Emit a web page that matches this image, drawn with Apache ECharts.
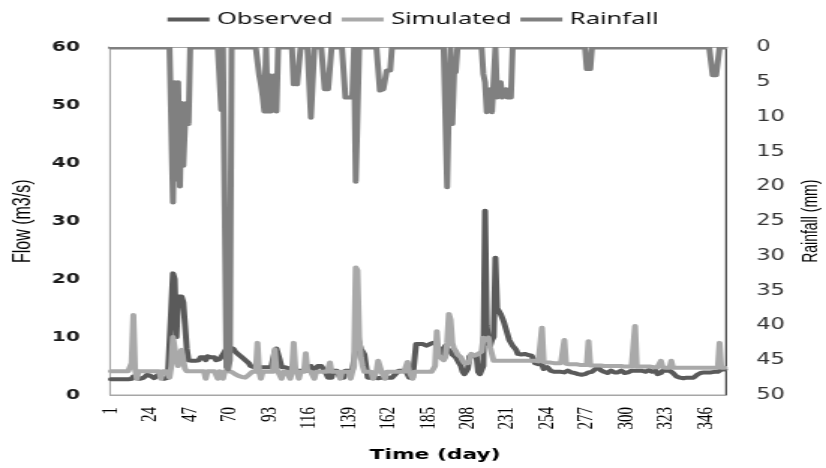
<!DOCTYPE html>
<html>
<head>
<meta charset="utf-8">
<script src="https://cdn.jsdelivr.net/npm/echarts@6/dist/echarts.min.js"></script>
<style>
html,body{margin:0;padding:0;background:#fff;overflow:hidden;width:826px;height:468px}
#main{width:551px;height:468px;transform:scaleX(1.49909);transform-origin:0 0}
</style>
</head>
<body>
<div id="main"></div>
<script>
// Daily values, day 1 .. 357
var observed = [
2.7,2.7,2.7,2.7,2.7,2.7,2.7,2.7,2.7,2.7,2.7,2.7,2.8,3.2,3.0,2.9,2.9,2.8,2.8,3.0,
3.2,3.5,3.6,3.3,3.0,2.9,2.9,3.4,3.6,3.1,2.8,2.8,2.9,3.0,3.2,15,21,20,10,17,
17,17,16,12,8,6,5.9,5.9,5.9,5.9,5.9,6.0,6.5,6.7,6.5,6.0,6.7,6.7,6.5,6.7,
6.5,6.0,6.0,6.2,6.5,7.0,7.5,8.0,8.2,8.2,8.2,8.0,7.5,7.5,7.0,7.0,6.5,6.5,6.0,5.9,
5.5,5.0,4.8,4.8,4.9,4.8,4.8,4.8,4.7,4.8,4.8,4.8,4.9,4.8,4.8,7.5,8.0,7.9,6.0,4.8,
4.8,4.8,4.7,4.6,4.5,4.4,4.3,4.2,4.2,4.2,4.2,4.2,4.2,4.2,4.2,4.2,5.0,5.0,4.2,4.2,
5.0,5.0,5.0,4.8,4.2,4.2,3.0,3.0,3.0,4.2,4.2,4.2,4.2,3.0,3.0,3.0,4.2,4.2,4.2,4.2,
4.2,4.5,8.0,10.0,9.0,8.0,7.5,7.0,5.0,3.0,3.0,3.0,3.0,3.0,2.9,2.9,3.0,3.0,3.0,3.0,
3.0,3.0,3.0,3.0,3.2,3.6,3.8,4.2,4.2,4.2,4.2,4.2,4.0,3.0,3.0,3.0,3.0,8.8,8.8,8.8,
8.8,8.8,8.8,8.5,8.8,8.8,8.8,9.0,9.0,8.8,8.5,7.5,7.0,8.0,8.5,8.0,7.8,7.5,7.0,6.8,
6.5,6.0,5.5,5.0,4.0,3.6,3.6,4.5,6.7,6.7,6.7,6.5,6.7,4.0,3.6,3.8,5.0,31.8,12,9.0,
8.5,9.5,10,23.7,15,14.5,14,13.3,12.5,11.5,10.5,9.5,9.0,8.5,8.2,7.8,7.1,7.1,7.0,7.1,
7.1,7.0,6.9,6.8,6.8,6.5,5.5,5.3,5.3,5.0,5.3,4.5,4.5,4.8,4.5,4.2,4.2,4.0,4.2,4.0,
3.9,4.0,3.8,3.9,4.0,4.2,4.0,3.9,4.0,3.8,3.7,3.6,3.6,3.5,3.6,3.6,3.7,3.9,4.0,4.0,
4.2,4.5,4.7,4.7,4.3,4.0,4.0,3.9,3.8,4.0,4.2,4.0,3.9,3.8,3.9,4.0,4.2,4.0,3.8,3.8,
3.9,4.2,4.2,4.0,4.2,4.3,4.2,4.0,4.2,4.2,4.0,4.2,4.3,4.2,4.0,4.2,4.2,3.6,3.6,3.8,
4.2,4.4,4.2,4.0,4.2,4.0,3.8,3.5,3.2,3.0,3.0,3.0,2.9,2.9,3.0,3.0,3.0,3.0,3.0,3.2,
3.5,3.6,3.8,3.9,3.9,4.0,3.9,3.8,3.9,4.0,4.0,3.9,4.0,4.2,4.4,4.3,4.4
];
var simulated = [
4.1,4.1,4.1,4.1,4.1,4.1,4.1,4.1,4.1,4.1,4.1,4.3,5.5,13.8,4.5,2.8,4.1,4.1,4.1,4.1,
4.1,4.1,4.1,4.1,4.1,4.1,4.1,4.1,4.1,2.8,4.1,4.1,4.1,4.1,3.0,5,10,9.9,6,5,
7,7.8,6,4.5,4.1,4.1,4.1,4.1,4.1,4.1,4.1,4.1,4.1,4.1,4.1,2.8,4.1,4.1,4.1,4.1,
4.1,4.1,2.8,4.1,4.1,2.8,4.1,4.1,4.1,4.1,4.0,3.8,3.6,3.4,3.3,3.2,3.1,3.0,3.0,3.2,
3.5,3.8,4.0,4.0,4.0,9.0,4.0,2.8,4.0,4.0,4.0,4.0,4.0,4.0,4.0,7.9,4.5,4.0,4.0,2.8,
4.0,4.0,4.0,4.0,2.8,4.0,9.0,4.5,4.0,2.8,4.0,4.0,4.0,7.2,4.2,4.0,4.0,4.0,2.8,4.0,
4.0,4.0,4.0,4.0,4.0,4.0,4.5,5.6,4.0,4.0,4.0,4.0,4.0,2.8,4.0,4.0,4.0,4.0,4.0,2.8,
4.0,5.0,22,21.5,10,6.5,5,4.0,4.0,4.0,4.0,4.0,2.8,2.8,4.0,5.9,5.9,4.0,4.0,2.8,
4.0,4.0,4.0,4.0,4.0,4.0,4.0,4.0,4.0,4.0,4.0,4.0,5.7,4.0,4.0,2.8,4.0,4.0,4.0,4.0,
4.0,4.0,4.0,4.0,4.0,4.0,4.0,4.0,5.0,11.0,7.0,6.5,6.5,6.0,6.5,9.0,14.0,13.0,9.0,8.0,
7.6,7.0,6.8,6.5,5.9,5.5,5.5,5.5,6.0,7.1,7.1,6.8,7.1,7.1,7.0,7.5,9.9,9.9,9.5,9.9,
8.2,8.0,5.9,5.9,5.9,5.9,5.9,5.9,5.9,5.9,5.9,5.9,5.9,5.9,5.9,5.9,5.9,5.9,5.9,5.9,
5.9,5.9,5.9,5.9,5.9,5.9,5.9,5.8,5.8,5.7,11.6,5.7,5.7,5.6,5.6,5.6,5.6,5.5,5.5,5.5,
5.5,5.5,5.4,9.5,5.4,5.4,5.3,5.3,5.3,5.3,5.3,5.2,5.2,5.2,5.2,5.2,5.2,9.3,5.1,5.1,
5.1,5.1,5.1,5.1,5.1,5.1,5.0,5.0,5.0,5.0,5.0,5.0,5.0,5.0,5.0,5.0,5.0,5.0,4.9,4.9,
4.9,4.9,4.9,4.9,11.9,4.9,4.9,4.9,4.9,4.9,4.9,4.9,4.9,4.9,4.9,4.8,4.8,4.8,4.8,5.9,
4.8,4.8,4.7,4.7,4.7,5.9,4.7,4.7,4.7,4.7,4.7,4.7,4.7,4.7,4.7,4.7,4.7,4.7,4.7,4.7,
4.7,4.7,4.7,4.7,4.7,4.7,4.7,4.7,4.7,4.7,4.7,4.7,4.7,9.0,4.7,4.7,4.7
];
var rainfall = [
0,0,0,0,0,0,0,0,0,0,0,0,0,0,0,0,0,0,0,0,
0,0,0,0,0,0,0,0,0,0,0,0,0,0,0,0,22.3,5,19,5,
20,8,17,11,8,11,0,0,0,0,0,0,0,0,0,0,0,0,0,0,
0,0,0,0,9,0,0,46,46.3,45,0,0,0,0,0,0,0,0,0,0,
0,0,0,0,0,0,4,5.3,7,9.2,0,9.2,4,9.2,9,4,9.2,0,0,0,
0,0,0,0,0,0,5.3,5,5.3,5.3,0,0,0,0,0,0,10.1,10.1,0,0,
0,0,0,0,6,6,6,6,0,0,0,0,0,0,0,0,7.2,7,7.2,7.2,
7.2,0,19.3,19.3,0,0,0,0,0,0,0,0,0,0,0,0,6.2,6.2,6,6.2,
3.3,3.3,3.3,0,0,0,0,0,0,0,0,0,0,0,0,0,0,0,0,0,
0,0,0,0,0,0,0,0,0,0,0,0,0,0,0,20.1,8,0,11,3.8,
3.5,0,0,0,0,0,0,0,0,0,0,0,0,0,0,0,3.8,5,9.3,9.3,
6,9.3,9.3,0,7.2,7.2,5,7.2,7.2,6,7.2,7.2,7.2,0,0,0,0,0,0,0,
0,0,0,0,0,0,0,0,0,0,0,0,0,0,0,0,0,0,0,0,
0,0,0,0,0,0,0,0,0,0,0,0,0,0,0,0,3.1,3.1,3.1,0,
0,0,0,0,0,0,0,0,0,0,0,0,0,0,0,0,0,0,0,0,
0,0,0,0,0,0,0,0,0,0,0,0,0,0,0,0,0,0,0,0,
0,0,0,0,0,0,0,0,0,0,0,0,0,0,0,0,0,0,0,0,
0,0,0,0,0,0,0,0,0,4,4,4,4,0,0,0,0
];
var days = observed.map(function (v, i) { return String(i + 1); });
var seriesNames = ['Observed', 'Simulated', 'Rainfall'];
var seriesColors = ['#5a5a5a', '#a9a9a9', '#808080'];

var GRID_LEFT = 73.4, GRID_RIGHT = 67, GRID_TOP = 47.5, GRID_BOTTOM = 73, W = 551;

var chart = echarts.init(document.getElementById('main'), null, {renderer: 'canvas'});
function lineSeries(idx, data, axis) {
  return {
    name: seriesNames[idx], type: 'line', data: data, yAxisIndex: axis,
    symbol: 'none', showSymbol: false, color: seriesColors[idx],
    lineStyle: {width: 4, color: seriesColors[idx], cap: 'round', join: 'round'},
    emphasis: {disabled: true}, animation: false
  };
}
chart.setOption({
  animation: false,
  backgroundColor: '#ffffff',
  legend: {
    top: 6, left: 'center', icon: 'rect', itemWidth: 28, itemHeight: 4, itemGap: 6,
    textStyle: {fontFamily: 'Noto Sans', fontSize: 17, color: '#111111'},
    data: seriesNames
  },
  grid: {left: GRID_LEFT, right: GRID_RIGHT, top: GRID_TOP, bottom: GRID_BOTTOM, show: true,
         borderColor: '#a6a6a6', borderWidth: 1, outerBoundsMode: 'none', containLabel: false},
  // white band just above the plot so the zero-rain line is cut at the frame top
  graphic: [{
    type: 'rect', z: 100, silent: true,
    shape: {x: GRID_LEFT - 1, y: 34, width: W - GRID_LEFT - GRID_RIGHT + 2, height: GRID_TOP - 34.5},
    style: {fill: '#ffffff'}
  }],
  xAxis: {
    type: 'category', data: days, boundaryGap: true,
    axisLine: {show: true, lineStyle: {color: '#a6a6a6', width: 1}},
    axisTick: {show: false}, splitLine: {show: false},
    axisLabel: {interval: 22, rotate: 90, margin: 12, fontFamily: 'Liberation Serif',
                fontSize: 15, color: '#000000'},
    name: 'Time (day)', nameLocation: 'middle', nameGap: 53,
    nameTextStyle: {fontFamily: 'DejaVu Sans', fontWeight: 'bold', fontSize: 14.5,
                    color: '#000000', padding: [0, 0, 0, 23]}
  },
  yAxis: [{
    type: 'value', min: 0, max: 60, interval: 10, position: 'left',
    axisLine: {show: true, lineStyle: {color: '#a6a6a6', width: 1}},
    axisTick: {show: false}, splitLine: {show: false},
    axisLabel: {margin: 20, fontFamily: 'DejaVu Sans', fontWeight: 'bold', fontSize: 13.5, color: '#1a1a1a'},
    name: 'Flow (m3/s)', nameLocation: 'middle', nameRotate: 90, nameGap: 48,
    nameTextStyle: {fontFamily: 'Liberation Sans', fontSize: 16, color: '#000000'}
  }, {
    type: 'value', min: 0, max: 50, interval: 5, inverse: true, position: 'right',
    axisLine: {show: true, lineStyle: {color: '#404040', width: 1}},
    axisTick: {show: false}, splitLine: {show: false},
    axisLabel: {margin: 20.5, fontFamily: 'DejaVu Sans', fontSize: 15, color: '#333333'},
    name: 'Rainfall (mm)', nameLocation: 'middle', nameRotate: 90, nameGap: 40,
    nameTextStyle: {fontFamily: 'Liberation Sans', fontSize: 14, color: '#000000'}
  }],
  series: [
    lineSeries(0, observed, 0),
    lineSeries(1, simulated, 0),
    lineSeries(2, rainfall, 1)
  ]
});
</script>
</body>
</html>
